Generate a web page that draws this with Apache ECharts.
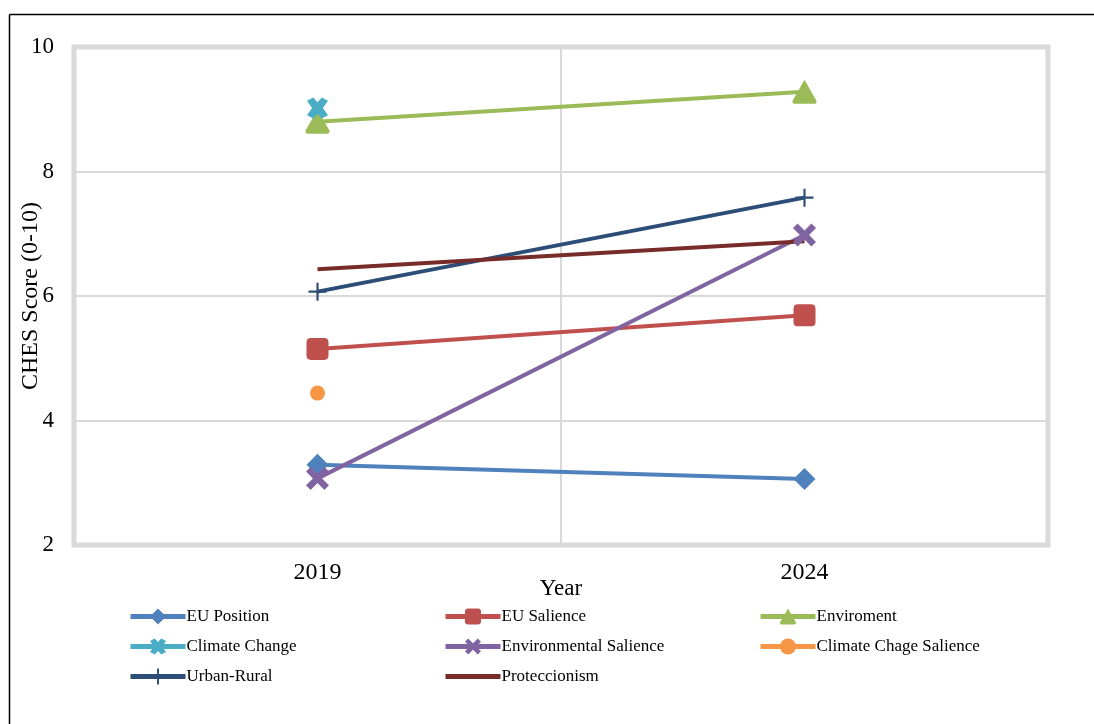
<!DOCTYPE html>
<html>
<head>
<meta charset="utf-8">
<script src="https://cdn.jsdelivr.net/npm/echarts@6/dist/echarts.min.js"></script>
<style>
  html, body { margin: 0; padding: 0; background: #ffffff; }
  #chart { width: 1094px; height: 724px; }
</style>
</head>
<body>
<div id="chart"></div>
<script>
// Survey years on the category axis
const years = ['2019', '2024'];

// CHES scores (0-10) per dimension; null where no 2024 value exists
const euPosition = [3.29, 3.06];
const euSalience = [5.15, 5.69];
const enviroment = [8.80, 9.28];
const climateChange = [9.02, null];
const environmentalSalience = [3.07, 6.98];
const climateChageSalience = [4.44, null];
const urbanRural = [6.07, 7.58];
const proteccionism = [6.43, 6.88];

// Value axis ticks
const yTicks = [2, 4, 6, 8, 10];

const serif = '"Liberation Serif", "Times New Roman", serif';

// Marker shapes
const thickX = 'path://M0,2L2,0L5,3L8,0L10,2L7,5L10,8L8,10L5,7L2,10L0,8L3,5Z';
const bluntX = 'path://M0,1.5L3,0L5,2.2L7,0L10,1.5L7.6,5L10,8.5L7,10L5,7.8L3,10L0,8.5L2.4,5Z';
const thinPlus = 'path://M4.4,0L5.6,0L5.6,4.4L10,4.4L10,5.6L5.6,5.6L5.6,10L4.4,10L4.4,5.6L0,5.6L0,4.4L4.4,4.4Z';
const roundSquare = 'path://M2,0L8,0Q10,0 10,2L10,8Q10,10 8,10L2,10Q0,10 0,8L0,2Q0,0 2,0Z';
const roundTriangle = 'path://M5,0L10,8.6Q10.4,10 9,10L1,10Q-0.4,10 0,8.6Z';

function line(name, data, color, symbol, size) {
  return {
    name: name,
    type: 'line',
    data: data,
    color: color,
    symbol: symbol,
    symbolSize: size,
    showAllSymbol: true,
    lineStyle: { width: 4, color: color },
    itemStyle: { color: color, opacity: 1 },
    emphasis: { disabled: true }
  };
}

const series = [
  line('EU Position', euPosition, '#4f81bd', 'diamond', 22),
  line('EU Salience', euSalience, '#c0504d', roundSquare, 22),
  line('Enviroment', enviroment, '#9bbb59', roundTriangle, 24),
  line('Climate Change', climateChange, '#4bacc6', bluntX, 21),
  line('Environmental Salience', environmentalSalience, '#8064a2', thickX, 23),
  line('Climate Chage Salience', climateChageSalience, '#f79646', 'circle', 15),
  line('Urban-Rural', urbanRural, '#2c4d75', thinPlus, 18),
  // plain line, markers kept invisible so the legend shows the line alone
  Object.assign(line('Proteccionism', proteccionism, '#772c2a', 'circle', 1), {
    itemStyle: { color: '#772c2a', opacity: 0 }
  })
];

function legendCol(left, names) {
  return {
    orient: 'vertical',
    left: left,
    top: 608,
    padding: 0,
    itemWidth: 55,
    itemHeight: 20,
    itemGap: 13,
    selectedMode: false,
    data: names,
    lineStyle: { width: 5 },
    textStyle: { fontFamily: serif, fontSize: 17, color: '#000', padding: [0, 0, 0, -4] }
  };
}

const chart = echarts.init(document.getElementById('chart'), null, { renderer: 'canvas' });
chart.setOption({
  animation: false,
  backgroundColor: '#ffffff',
  grid: {
    left: 74, right: 46, top: 47, bottom: 179,
    outerBoundsMode: 'none',
    containLabel: false,
    show: true, borderColor: '#d9d9d9', borderWidth: 5, backgroundColor: 'transparent'
  },
  xAxis: {
    type: 'category',
    data: years,
    boundaryGap: true,
    name: 'Year',
    nameLocation: 'middle',
    nameGap: 32,
    nameMoveOverlap: false,
    nameTextStyle: { fontFamily: serif, fontSize: 23, color: '#000' },
    axisLine: { show: false },
    axisTick: { show: false },
    axisLabel: { fontFamily: serif, fontSize: 24, color: '#000', margin: 16 },
    splitLine: { show: true, lineStyle: { color: '#d9d9d9', width: 2 } }
  },
  yAxis: {
    type: 'value',
    min: yTicks[0],
    max: yTicks[yTicks.length - 1],
    interval: 2,
    name: 'CHES Score (0-10)',
    nameLocation: 'middle',
    nameGap: 31,
    nameMoveOverlap: false,
    nameTextStyle: { fontFamily: serif, fontSize: 24, color: '#000' },
    axisLine: { show: false },
    axisTick: { show: false },
    axisLabel: { fontFamily: serif, fontSize: 23, color: '#000', margin: 20 },
    splitLine: { show: true, lineStyle: { color: '#d9d9d9', width: 2 } }
  },
  legend: [
    legendCol(128, ['EU Position', 'Climate Change', 'Urban-Rural']),
    legendCol(443, ['EU Salience', 'Environmental Salience', 'Proteccionism']),
    legendCol(758, ['Enviroment', 'Climate Chage Salience'])
  ],
  graphic: [
    { type: 'line', shape: { x1: 9.5, y1: 14.5, x2: 1094, y2: 14.5 }, style: { stroke: '#000', lineWidth: 1.5 } },
    { type: 'line', shape: { x1: 9.5, y1: 14.5, x2: 9.5, y2: 724 }, style: { stroke: '#000', lineWidth: 1.5 } }
  ],
  series: series
});
</script>
</body>
</html>
